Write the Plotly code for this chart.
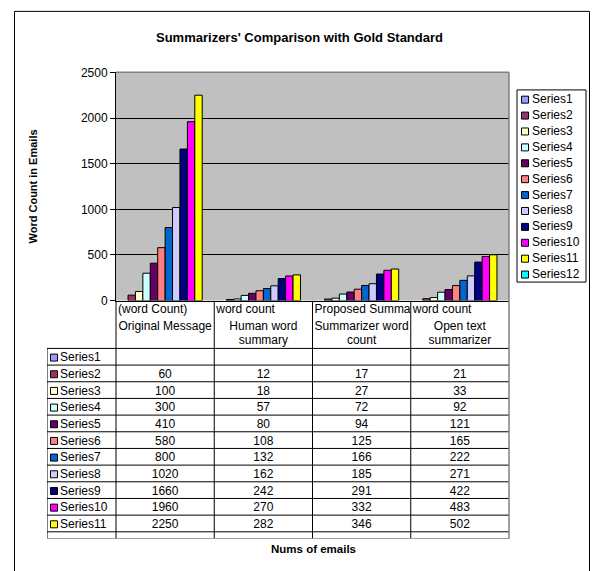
import plotly.graph_objects as go

W, H = 594, 571
FONT = "Liberation Sans, Arial, sans-serif"

# ---------------- data ----------------
categories_line1 = ["(word Count)", "word count", "Proposed Summa", "word count"]
categories_rest = [["Original Message"], ["Human word", "summary"],
                   ["Summarizer word", "count"], ["Open text", "summarizer"]]
series_names = ["Series1", "Series2", "Series3", "Series4", "Series5", "Series6",
                "Series7", "Series8", "Series9", "Series10", "Series11", "Series12"]
series_colors = ["#9999FF", "#993366", "#FFFFCC", "#CCFFFF", "#660066", "#FF8080",
                 "#0066CC", "#CCCCFF", "#000080", "#FF00FF", "#FFFF00", "#00FFFF"]
series1 = [None, None, None, None]
series2 = [60, 12, 17, 21]
series3 = [100, 18, 27, 33]
series4 = [300, 57, 72, 92]
series5 = [410, 80, 94, 121]
series6 = [580, 108, 125, 165]
series7 = [800, 132, 166, 222]
series8 = [1020, 162, 185, 271]
series9 = [1660, 242, 291, 422]
series10 = [1960, 270, 332, 483]
series11 = [2250, 282, 346, 502]
series12 = [None, None, None, None]
series_values = [series1, series2, series3, series4, series5, series6,
                 series7, series8, series9, series10, series11, series12]
y_ticks = [0, 500, 1000, 1500, 2000, 2500]

# ---------------- layout geometry (pixels) ----------------
PL, PR, PT, PB = 116, 509, 67, 301       # plot area
TL, TB = 47, 545                          # table left / bottom
ROW0 = 350                                # first table row top
ROWH = 17.09
CATW = (PR - PL) / 4.0
ncat = len(categories_line1)


def fx(p):
    return p / W


def fy(p):
    return 1 - p / H


fig = go.Figure()

# bars
xs = list(range(ncat))
for name, col, vals in zip(series_names, series_colors, series_values):
    fig.add_trace(go.Bar(x=xs, y=vals, name=name, marker_color=col,
                         marker_line_color="black", marker_line_width=1,
                         showlegend=False, xaxis="x", yaxis="y"))

# ---------------- data table ----------------
tx0 = -0.5 - (PL - TL) / CATW
tab_bottom = (TB - ROW0) / ROWH
tab_top = -(ROW0 - PB) / ROWH

# values
vx, vy, vt = [], [], []
for k, vals in enumerate(series_values):
    for c, v in enumerate(vals):
        if v is not None:
            vx.append(c)
            vy.append(k + 0.6)
            vt.append(str(v))
fig.add_trace(go.Scatter(x=vx, y=vy, text=vt, mode="text", textposition="middle center",
                         textfont=dict(family=FONT, size=12, color="black"),
                         showlegend=False, hoverinfo="skip", cliponaxis=True,
                         xaxis="x2", yaxis="y2"))
# names with keys
nrows = len(series_names)
fig.add_trace(go.Scatter(x=[tx0 + 7 / CATW] * nrows, y=[k + 0.55 for k in range(nrows)],
                         mode="markers",
                         marker=dict(symbol="square", size=7, color=series_colors,
                                     line=dict(color="black", width=1)),
                         showlegend=False, hoverinfo="skip", cliponaxis=True,
                         xaxis="x2", yaxis="y2"))
fig.add_trace(go.Scatter(x=[tx0 + 13 / CATW] * nrows, y=[k + 0.6 for k in range(nrows)],
                         text=series_names, mode="text", textposition="middle right",
                         textfont=dict(family=FONT, size=12, color="black"),
                         showlegend=False, hoverinfo="skip", cliponaxis=True,
                         xaxis="x2", yaxis="y2"))
# header text
hx, hy, ht = [], [], []
for c in range(ncat):
    for j, line in enumerate(categories_rest[c]):
        hx.append(c)
        hy.append((328 + j * 14 - ROW0) / ROWH)
        ht.append(line)
fig.add_trace(go.Scatter(x=hx, y=hy, text=ht, mode="text", textposition="middle center",
                         textfont=dict(family=FONT, size=12, color="black"),
                         showlegend=False, hoverinfo="skip", cliponaxis=False,
                         xaxis="x2", yaxis="y2"))
fig.add_trace(go.Scatter(x=[c - 0.5 + 2 / CATW for c in range(ncat)],
                         y=[(311 - ROW0) / ROWH] * ncat, text=categories_line1,
                         mode="text", textposition="middle right",
                         textfont=dict(family=FONT, size=12, color="black"),
                         showlegend=False, hoverinfo="skip", cliponaxis=False,
                         xaxis="x2", yaxis="y2"))

shapes = []
# plot area background
shapes.append(dict(type="rect", xref="x domain", yref="y domain", x0=0, x1=1, y0=0, y1=1,
                   fillcolor="#C0C0C0", line_width=0, layer="below"))
# table grid lines
for k in range(0, nrows):
    if k <= tab_bottom:
        shapes.append(dict(type="line", xref="x2", yref="y2", x0=tx0, x1=ncat - 0.5,
                           y0=k, y1=k, line=dict(color="black", width=1)))
shapes.append(dict(type="line", xref="x2", yref="y2", x0=tx0, x1=tx0, y0=0, y1=tab_bottom,
                   line=dict(color="black", width=1)))
for c in range(ncat):
    shapes.append(dict(type="line", xref="x2", yref="y2", x0=c - 0.5, x1=c - 0.5,
                       y0=tab_top, y1=tab_bottom, line=dict(color="black", width=1)))
shapes.append(dict(type="line", xref="x2", yref="y2", x0=tx0, x1=ncat - 0.5,
                   y0=tab_bottom, y1=tab_bottom, line=dict(color="#808080", width=1.5)))
# plot area frame (gray) top / right
shapes.append(dict(type="line", xref="paper", yref="paper", x0=fx(PL), x1=fx(PR),
                   y0=fy(PT), y1=fy(PT), line=dict(color="#808080", width=1.5)))
shapes.append(dict(type="line", xref="paper", yref="paper", x0=fx(PR), x1=fx(PR),
                   y0=fy(PT), y1=fy(TB), line=dict(color="#808080", width=1.5)))
# outer chart frame
shapes.append(dict(type="rect", xref="paper", yref="paper", x0=fx(14.5), x1=fx(589.5),
                   y0=-0.02, y1=fy(4.5), line=dict(color="black", width=1)))

# ---------------- legend (manual) ----------------
LGL, LGR, LGT, LGB = 517, 586, 85, 282
fig.add_trace(go.Scatter(x=[8] * nrows, y=[10 + k * 16.3 for k in range(nrows)],
                         mode="markers",
                         marker=dict(symbol="square", size=7, color=series_colors,
                                     line=dict(color="black", width=1)),
                         showlegend=False, hoverinfo="skip", cliponaxis=False,
                         xaxis="x3", yaxis="y3"))
fig.add_trace(go.Scatter(x=[15] * nrows, y=[10.5 + k * 16.3 for k in range(nrows)],
                         text=series_names, mode="text", textposition="middle right",
                         textfont=dict(family=FONT, size=12, color="black"),
                         showlegend=False, hoverinfo="skip", cliponaxis=False,
                         xaxis="x3", yaxis="y3"))
shapes.append(dict(type="rect", xref="x3 domain", yref="y3 domain", x0=0, x1=1, y0=0, y1=1,
                   line=dict(color="black", width=1)))

annotations = [
    dict(text="<b>Summarizers' Comparison with Gold Standard</b>", xref="paper", yref="paper",
         x=fx(299), y=fy(31), showarrow=False, xanchor="center", yanchor="middle",
         font=dict(family=FONT, size=13, color="black")),
    dict(text="<b>Word Count in Emails</b>", xref="paper", yref="paper",
         x=fx(33), y=fy(184), showarrow=False, textangle=-90, xanchor="center",
         yanchor="middle", font=dict(family=FONT, size=11, color="black")),
    dict(text="<b>Nums of emails</b>", xref="paper", yref="paper",
         x=fx(313), y=fy(556), showarrow=False, xanchor="center", yanchor="middle",
         font=dict(family=FONT, size=11.5, color="black")),
]

fig.update_layout(
    width=W, height=H, margin=dict(l=0, r=0, t=0, b=0),
    paper_bgcolor="white", plot_bgcolor="rgba(0,0,0,0)",
    barmode="group", bargap=0.094, bargroupgap=0,
    font=dict(family=FONT, size=12, color="black"),
    shapes=shapes, annotations=annotations,
    xaxis=dict(domain=[fx(PL), fx(PR)], range=[-0.5, ncat - 0.5], showticklabels=False,
               ticks="", showgrid=False, zeroline=False, showline=True,
               linecolor="black", linewidth=1),
    yaxis=dict(domain=[fy(PB), fy(PT)], range=[0, 2500], tickvals=y_ticks,
               ticks="outside", ticklen=5, tickcolor="black", showline=True,
               linecolor="black", linewidth=1, showgrid=True, gridcolor="black",
               gridwidth=1, zeroline=False, tickfont=dict(family=FONT, size=12)),
    xaxis2=dict(domain=[fx(TL), fx(PR)], range=[tx0, ncat - 0.5], visible=False,
                anchor="y2"),
    yaxis2=dict(domain=[fy(TB), fy(PB)], range=[tab_bottom, tab_top], visible=False,
                anchor="x2"),
    xaxis3=dict(domain=[fx(LGL), fx(LGR)], range=[0, LGR - LGL], visible=False,
                anchor="y3"),
    yaxis3=dict(domain=[fy(LGB), fy(LGT)], range=[LGB - LGT, 0], visible=False,
                anchor="x3"),
)

fig.write_html("out.html")
